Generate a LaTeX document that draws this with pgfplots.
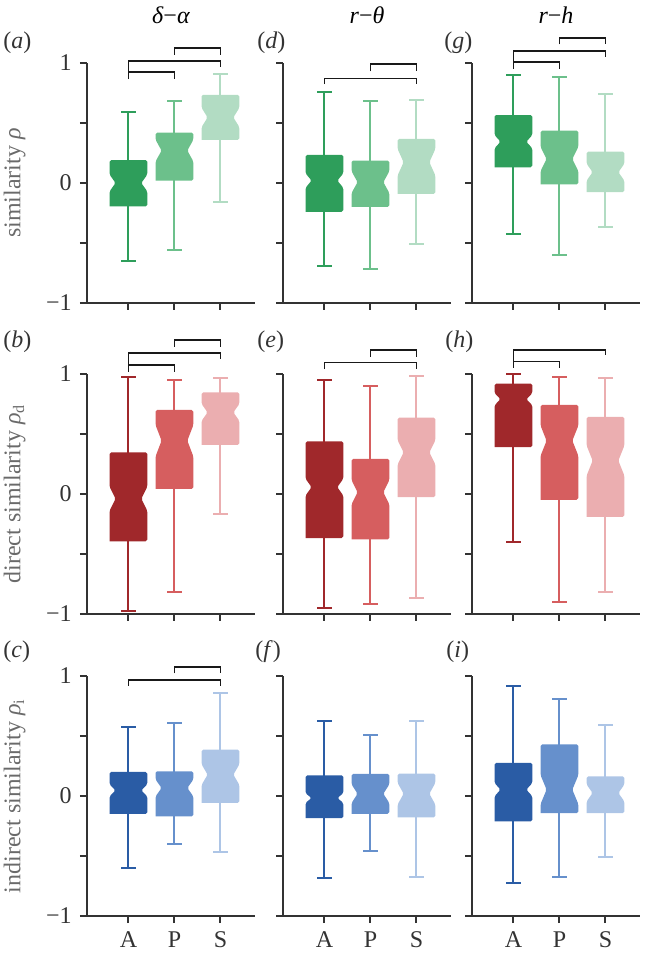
\documentclass[border=0pt]{standalone}
\usepackage{fontspec}
\setmainfont{Liberation Serif}
\usepackage{pgfplots}
\pgfplotsset{compat=1.18}

\definecolor{gA}{HTML}{2E9E5B}
\definecolor{gP}{HTML}{6CC08B}
\definecolor{gS}{HTML}{B2DCC3}
\definecolor{rA}{HTML}{A0282B}
\definecolor{rP}{HTML}{D65E5F}
\definecolor{rS}{HTML}{EBAEB0}
\definecolor{bA}{HTML}{2A5CA5}
\definecolor{bP}{HTML}{6690CC}
\definecolor{bS}{HTML}{ADC5E6}
\definecolor{axc}{HTML}{333333}
\definecolor{labc}{HTML}{6A6A6A}

% notched box: #1 x, #2 lower whisker, #3 q1, #4 median, #5 q3, #6 upper whisker, #7 notch half-height, #8 colour
\newcommand{\nbox}[8]{%
  \pgfmathsetmacro\nbXl{#1-0.41}%
  \pgfmathsetmacro\nbXr{#1+0.41}%
  \pgfmathsetmacro\nbXli{#1-0.28}%
  \pgfmathsetmacro\nbXri{#1+0.28}%
  \pgfmathsetmacro\nbCl{#1-0.16}%
  \pgfmathsetmacro\nbCr{#1+0.16}%
  \pgfmathsetmacro\nbNu{#4+#7}%
  \pgfmathsetmacro\nbNd{#4-#7}%
  \edef\nbDoit{%
    \noexpand\addplot[#8, line width=1pt, forget plot] coordinates {(#1,#2) (#1,#6)};
    \noexpand\addplot[#8, line width=1pt, forget plot] coordinates {(\nbCl,#2) (\nbCr,#2)};
    \noexpand\addplot[#8, line width=1pt, forget plot] coordinates {(\nbCl,#6) (\nbCr,#6)};
    \noexpand\addplot[fill=#8, draw=none, rounded corners=0.8pt, forget plot] coordinates {(\nbXl,#3) (\nbXl,\nbNd) (\nbXli,#4) (\nbXl,\nbNu) (\nbXl,#5) (\nbXr,#5) (\nbXr,\nbNu) (\nbXri,#4) (\nbXr,\nbNd) (\nbXr,#3) (\nbXl,#3)};
  }\nbDoit
}
% bracket: #1 x1, #2 x2, #3 height, #4 left leg bottom, #5 right leg bottom
\newcommand{\brk}[5]{%
  \addplot[black!90, line width=0.9pt, forget plot] coordinates {(#1,#4) (#1,#3) (#2,#3) (#2,#5)};
}

\pgfplotsset{
  myax/.style={
    scale only axis, width=84pt, height=120pt,
    xmin=0.1, xmax=3.75, ymin=-1, ymax=1,
    axis x line*=bottom, axis y line*=left,
    axis line style={axc, line width=1pt},
    every tick/.style={axc, line width=1pt},
    tick align=outside, major tick length=3.5pt,
    xtick={1,2,3}, ytick={-1,-0.5,0,0.5,1},
    xticklabels={}, yticklabels={},
    ticklabel style={text=axc},
    clip=false,
    anchor=south west,
  },
  firstcol/.style={
    yticklabels={−1,,0,,1},
    ylabel style={at={(axis description cs:-0.43,0.5)}, anchor=center, text=labc},
  },
  lastrow/.style={xticklabels={A,P,S}},
}

\begin{document}
\fontsize{12}{14}\selectfont
\begin{tikzpicture}
\useasboundingbox (0,0) rectangle (322.5pt,478pt);

% titles
\node at (85.5pt,470.5pt) {\textit{δ}−\textit{α}};
\node at (183.5pt,470.5pt) {\textit{r}−\textit{θ}};
\node at (278pt,470.5pt) {\textit{r}−\textit{h}};

% panel labels
\node[anchor=west, inner sep=0pt, text=axc] at (1.5pt,456.5pt) {(\textit{a})};
\node[anchor=west, inner sep=0pt, text=axc] at (128.5pt,456.5pt) {(\textit{d})};
\node[anchor=west, inner sep=0pt, text=axc] at (222pt,456.5pt) {(\textit{g})};
\node[anchor=west, inner sep=0pt, text=axc] at (1.5pt,307pt) {(\textit{b})};
\node[anchor=west, inner sep=0pt, text=axc] at (128.5pt,307pt) {(\textit{e})};
\node[anchor=west, inner sep=0pt, text=axc] at (222.5pt,307pt) {(\textit{h})};
\node[anchor=west, inner sep=0pt, text=axc] at (1.5pt,152pt) {(\textit{c})};
\node[anchor=west, inner sep=0pt, text=axc] at (127.5pt,152pt) {(\textit{f})};
\node[anchor=west, inner sep=0pt, text=axc] at (223pt,152pt) {(\textit{i})};

% (a)
\begin{axis}[myax, firstcol, at={(43.5pt,326.5pt)}, ylabel={similarity \textit{ρ}}]
\nbox{1}{-0.65}{-0.195}{0.0}{0.19}{0.593}{0.07}{gA}
\nbox{2}{-0.56}{0.02}{0.27}{0.42}{0.687}{0.09}{gP}
\nbox{3}{-0.16}{0.36}{0.546}{0.735}{0.91}{0.08}{gS}
\brk{1}{2}{0.925}{0.865}{0.865}
\brk{1}{3}{1.017}{0.925}{0.97}
\brk{2}{3}{1.125}{1.07}{1.07}
\end{axis}

% (d)
\begin{axis}[myax, at={(141.5pt,326.5pt)}]
\nbox{1}{-0.69}{-0.24}{0.02}{0.234}{0.762}{0.06}{gA}
\nbox{2}{-0.715}{-0.2}{0.007}{0.187}{0.685}{0.09}{gP}
\nbox{3}{-0.51}{-0.09}{0.173}{0.367}{0.693}{0.11}{gS}
\brk{1}{3}{0.87}{0.823}{0.823}
\brk{2}{3}{0.99}{0.93}{0.93}
\end{axis}

% (g)
\begin{axis}[myax, at={(236pt,326.5pt)}]
\nbox{1}{-0.427}{0.131}{0.344}{0.566}{0.9}{0.055}{gA}
\nbox{2}{-0.604}{-0.012}{0.2}{0.436}{0.884}{0.1}{gP}
\nbox{3}{-0.37}{-0.076}{0.09}{0.261}{0.74}{0.07}{gS}
\brk{1}{2}{1.006}{0.953}{0.953}
\brk{1}{3}{1.1}{1.006}{1.05}
\brk{2}{3}{1.207}{1.155}{1.155}
\end{axis}

% (b)
\begin{axis}[myax, firstcol, at={(43.5pt,171pt)}, ylabel={direct similarity \textit{ρ}\textsubscript{d}}]
\nbox{1}{-0.975}{-0.394}{-0.04}{0.347}{0.975}{0.1}{rA}
\nbox{2}{-0.815}{0.043}{0.444}{0.7}{0.947}{0.13}{rP}
\nbox{3}{-0.17}{0.41}{0.68}{0.846}{0.97}{0.07}{rS}
\brk{1}{2}{1.072}{1.02}{1.02}
\brk{1}{3}{1.177}{1.072}{1.127}
\brk{2}{3}{1.28}{1.225}{1.225}
\end{axis}

% (e)
\begin{axis}[myax, at={(141.5pt,171pt)}]
\nbox{1}{-0.948}{-0.367}{0.057}{0.438}{0.948}{0.07}{rA}
\nbox{2}{-0.917}{-0.378}{0.015}{0.292}{0.9}{0.1}{rP}
\nbox{3}{-0.87}{-0.026}{0.347}{0.637}{0.98}{0.1}{rS}
\brk{1}{3}{1.095}{1.04}{1.04}
\brk{2}{3}{1.2}{1.145}{1.145}
\end{axis}

% (h)
\begin{axis}[myax, at={(236pt,171pt)}]
\nbox{1}{-0.4}{0.39}{0.79}{0.92}{0.997}{0.05}{rA}
\nbox{2}{-0.898}{-0.048}{0.444}{0.743}{0.978}{0.125}{rP}
\nbox{3}{-0.815}{-0.19}{0.278}{0.643}{0.97}{0.125}{rS}
\brk{1}{2}{1.104}{1.054}{1.054}
\brk{1}{3}{1.2}{1.104}{1.155}
\end{axis}

% (c)
\begin{axis}[myax, firstcol, lastrow, at={(43.5pt,20pt)}, ylabel={indirect similarity \textit{ρ}\textsubscript{i}}]
\nbox{1}{-0.597}{-0.15}{0.047}{0.2}{0.576}{0.05}{bA}
\nbox{2}{-0.4}{-0.17}{0.067}{0.206}{0.61}{0.07}{bP}
\nbox{3}{-0.468}{-0.058}{0.178}{0.387}{0.855}{0.085}{bS}
\brk{1}{3}{0.964}{0.917}{0.917}
\brk{2}{3}{1.078}{1.022}{1.022}
\end{axis}

% (f)
\begin{axis}[myax, lastrow, at={(141.5pt,20pt)}]
\nbox{1}{-0.685}{-0.184}{-0.017}{0.172}{0.623}{0.04}{bA}
\nbox{2}{-0.457}{-0.148}{0.019}{0.184}{0.512}{0.077}{bP}
\nbox{3}{-0.677}{-0.179}{0.019}{0.186}{0.623}{0.09}{bS}
\end{axis}

% (i)
\begin{axis}[myax, lastrow, at={(236pt,20pt)}]
\nbox{1}{-0.727}{-0.212}{0.053}{0.276}{0.916}{0.055}{bA}
\nbox{2}{-0.677}{-0.142}{0.053}{0.43}{0.81}{0.12}{bP}
\nbox{3}{-0.507}{-0.142}{0.025}{0.164}{0.593}{0.07}{bS}
\end{axis}
\end{tikzpicture}
\end{document}
